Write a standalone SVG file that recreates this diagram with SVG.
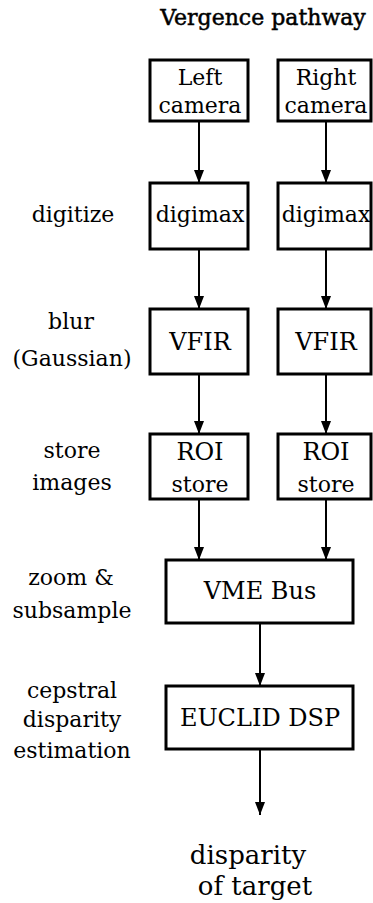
<svg xmlns="http://www.w3.org/2000/svg" width="373" height="903" viewBox="0 0 373 903">
<style>
text { font-family: "DejaVu Serif", "Liberation Serif", serif; fill: #000; text-anchor: middle; }
.lbl { font-size: 22px; }
.box { fill: #fff; stroke: #000; stroke-width: 3; }
.t2 { font-size: 22px; }
.t1 { font-size: 24px; }
.conn line { stroke: #000; stroke-width: 2; marker-end: url(#ah); }
</style>
<defs>
<marker id="ah" markerUnits="userSpaceOnUse" markerWidth="13" markerHeight="10" refX="13" refY="5" orient="auto" viewBox="0 0 13 10">
<path d="M0,0 L13,5 L0,10 Z" fill="#000"/>
</marker>
</defs>
<rect width="373" height="903" fill="#fff"/>
<text id="title" x="263" y="25" font-size="22" stroke="#000" stroke-width="0.5">Vergence pathway</text>

<g id="labels">
<text x="73" y="222" class="lbl">digitize</text>
<text x="71" y="329" class="lbl">blur</text>
<text x="72" y="366" class="lbl">(Gaussian)</text>
<text x="72" y="458" class="lbl">store</text>
<text x="72" y="490" class="lbl">images</text>
<text x="71" y="585" class="lbl">zoom &amp;</text>
<text x="72" y="618" class="lbl">subsample</text>
<text x="72" y="698" class="lbl">cepstral</text>
<text x="72" y="727" class="lbl">disparity</text>
<text x="72" y="758" class="lbl">estimation</text>
</g>

<g class="conn" id="connectors">
<line x1="199" y1="121" x2="199" y2="183"/>
<line x1="326" y1="121" x2="326" y2="183"/>
<line x1="199" y1="249" x2="199" y2="309"/>
<line x1="326" y1="249" x2="326" y2="309"/>
<line x1="199" y1="374" x2="199" y2="434"/>
<line x1="326" y1="374" x2="326" y2="434"/>
<line x1="199" y1="499" x2="199" y2="560"/>
<line x1="326" y1="499" x2="326" y2="560"/>
<line x1="260" y1="623" x2="260" y2="686"/>
<line x1="260" y1="749" x2="260" y2="815"/>
</g>

<g id="left-camera"><rect class="box" x="150" y="60" width="98" height="61"/><text class="t2" x="200" y="85">Left</text><text class="t2" x="200" y="113">camera</text></g>
<g id="right-camera"><rect class="box" x="278" y="60" width="93" height="61"/><text class="t2" x="326" y="85">Right</text><text class="t2" x="326" y="113">camera</text></g>
<g id="left-digimax"><rect class="box" x="150" y="183" width="98" height="66"/><text class="t2" x="200" y="222">digimax</text></g>
<g id="right-digimax"><rect class="box" x="278" y="183" width="93" height="66"/><text class="t2" x="326" y="222">digimax</text></g>
<g id="left-vfir"><rect class="box" x="150" y="309" width="98" height="65"/><text class="t1" x="200" y="350">VFIR</text></g>
<g id="right-vfir"><rect class="box" x="278" y="309" width="93" height="65"/><text class="t1" x="326" y="350">VFIR</text></g>
<g id="left-roi"><rect class="box" x="150" y="434" width="98" height="65"/><text class="t1" x="200" y="460">ROI</text><text class="t2" x="200" y="492">store</text></g>
<g id="right-roi"><rect class="box" x="278" y="434" width="93" height="65"/><text class="t1" x="326" y="460">ROI</text><text class="t2" x="326" y="492">store</text></g>
<g id="vme-bus"><rect class="box" x="166" y="560" width="187" height="63"/><text class="t1" x="260" y="599">VME Bus</text></g>
<g id="euclid-dsp"><rect class="box" x="166" y="686" width="187" height="63"/><text class="t1" x="260" y="726">EUCLID DSP</text></g>
<g id="output"><text x="248" y="864" font-size="26">disparity</text><text x="255" y="895" font-size="26">of target</text></g>
</svg>
